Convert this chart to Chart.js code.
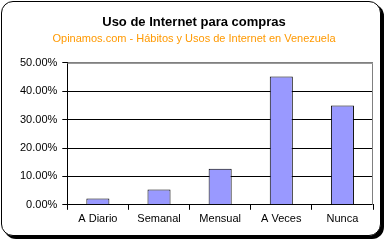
<!DOCTYPE html>
<html>
<head>
<meta charset="utf-8">
<script src="https://cdn.jsdelivr.net/npm/chart.js@4"></script>
<style>
  body { margin: 0; background: #fff; }
  #wrap { position: relative; width: 386px; height: 242px; }
  #frame { position: absolute; left: 1px; top: 1px; width: 378px; height: 233px;
           border: 1px solid #000; border-radius: 12px; box-shadow: 3px 3px 0 #000; background: #fff; }
  canvas { position: absolute; left: 0; top: 0; }
</style>
</head>
<body>
<div id="wrap">
  <div id="frame"></div>
  <canvas id="myChart" width="386" height="242"></canvas>
</div>
<script>
var categories = ["A Diario", "Semanal", "Mensual", "A Veces", "Nunca"];
var compras = [0.022, 0.054, 0.127, 0.452, 0.35];
var yTicks = [0, 0.1, 0.2, 0.3, 0.4, 0.5];

var titleText = "Uso de Internet para compras";
var subtitleText = "Opinamos.com - Hábitos y Usos de Internet en Venezuela";

// gray top/right border of plot area
var plotBorder = {
  id: 'plotBorder',
  afterDraw: function(chart) {
    var a = chart.chartArea, c = chart.ctx;
    c.save();
    c.strokeStyle = '#808080';
    c.lineWidth = 1;
    c.beginPath();
    c.moveTo(a.left, a.top + 0.5);
    c.lineTo(a.right - 0.5, a.top + 0.5);
    c.lineTo(a.right - 0.5, a.bottom);
    c.stroke();
    c.restore();
  }
};

var ctx = document.getElementById('myChart').getContext('2d');
var myChart = new Chart(ctx, {
  type: 'bar',
  data: {
    labels: categories,
    datasets: [{
      data: compras,
      backgroundColor: '#9999FF',
      borderColor: '#000',
      borderWidth: 1,
      categoryPercentage: 1,
      barPercentage: 0.377
    }]
  },
  options: {
    responsive: false,
    animation: false,
    layout: { padding: { left: 15, right: 13, top: 0, bottom: 13 } },
    plugins: {
      legend: { display: false },
      tooltip: { enabled: false },
      title: {
        display: true, text: titleText, color: '#000',
        font: { family: 'Arial, "Liberation Sans"', size: 13, weight: 'bold' },
        padding: { top: 15, bottom: 2 }
      },
      subtitle: {
        display: true, text: subtitleText, color: '#FF9900',
        font: { family: 'Arial, "Liberation Sans"', size: 11 },
        padding: { top: 0, bottom: 17 }
      }
    },
    scales: {
      x: {
        grid: { drawOnChartArea: false, color: '#000', tickLength: 5 },
        border: { color: '#000' },
        ticks: { color: '#000', font: { family: 'Arial, "Liberation Sans"', size: 11 }, padding: 3 }
      },
      y: {
        min: 0, max: 0.5,
        afterBuildTicks: function(s) { s.ticks = yTicks.map(function(v) { return { value: v }; }); },
        grid: {
          color: function(c) { return c.tick && c.tick.value >= 0.5 ? '#808080' : '#000'; },
          tickColor: '#000', tickLength: 5
        },
        border: { color: '#000' },
        ticks: {
          color: '#000', padding: 5,
          font: { family: 'Arial, "Liberation Sans"', size: 11 },
          callback: function(v) { return (v * 100).toFixed(2) + '%'; }
        }
      }
    }
  },
  plugins: [plotBorder]
});
</script>
</body>
</html>
